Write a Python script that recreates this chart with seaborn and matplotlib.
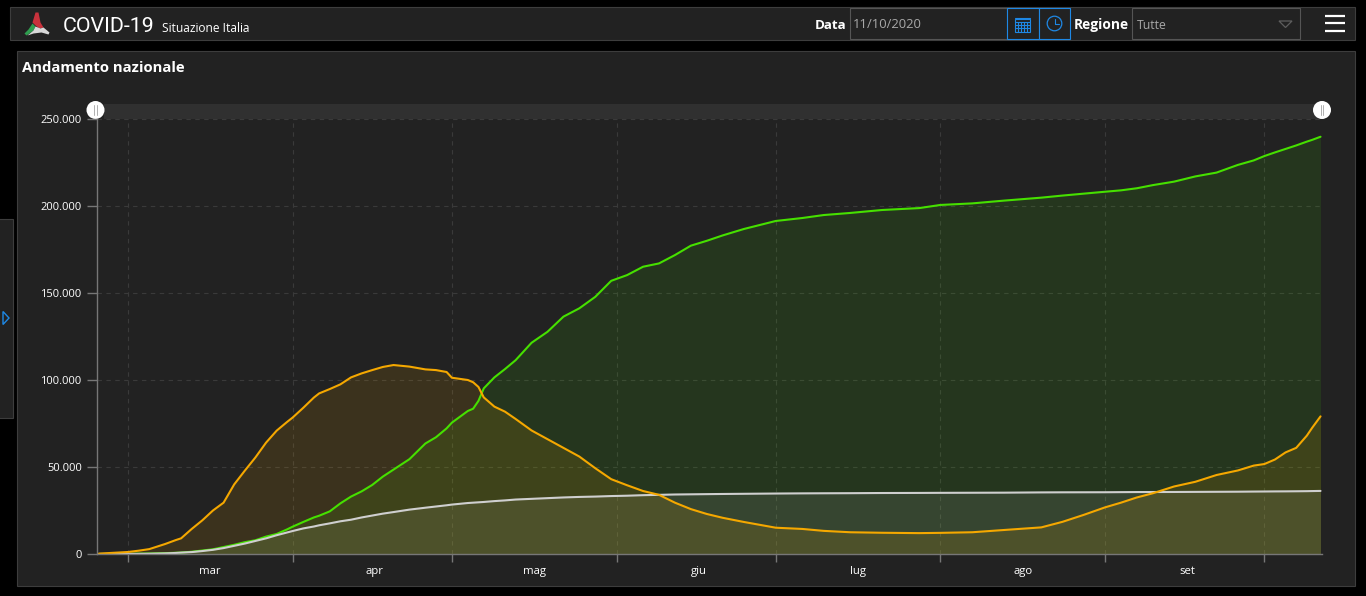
import pandas as pd
import numpy as np
import matplotlib.pyplot as plt
import matplotlib.dates as mdates
from matplotlib.patches import Rectangle, Circle, Polygon
from matplotlib.ticker import FuncFormatter
import seaborn as sns

# Values
dates = ['2020-02-24 12:00', '2020-03-01', '2020-03-03', '2020-03-05', '2020-03-08', '2020-03-10', '2020-03-11',
         '2020-03-13', '2020-03-15', '2020-03-17', '2020-03-19', '2020-03-21', '2020-03-23', '2020-03-25',
         '2020-03-27', '2020-03-29', '2020-03-31', '2020-04-01', '2020-04-03', '2020-04-05', '2020-04-06',
         '2020-04-08', '2020-04-10', '2020-04-12', '2020-04-14', '2020-04-16', '2020-04-18', '2020-04-20',
         '2020-04-23', '2020-04-26', '2020-04-28', '2020-04-30', '2020-05-01', '2020-05-04', '2020-05-05',
         '2020-05-06', '2020-05-07', '2020-05-09', '2020-05-11', '2020-05-13', '2020-05-16', '2020-05-19',
         '2020-05-22', '2020-05-25', '2020-05-28', '2020-05-31', '2020-06-03', '2020-06-06', '2020-06-09',
         '2020-06-12', '2020-06-15', '2020-06-18', '2020-06-21', '2020-06-25', '2020-07-01', '2020-07-06',
         '2020-07-10', '2020-07-15', '2020-07-21', '2020-07-28', '2020-08-01', '2020-08-07', '2020-08-13',
         '2020-08-20', '2020-08-24', '2020-08-28', '2020-09-01', '2020-09-04', '2020-09-07', '2020-09-10',
         '2020-09-14', '2020-09-18', '2020-09-22', '2020-09-26', '2020-09-29', '2020-10-01', '2020-10-03',
         '2020-10-05', '2020-10-07', '2020-10-09', '2020-10-10', '2020-10-11 14:00']

positivi = [220, 1150, 1900, 2800, 5750, 8000, 9000,
            14400, 19350, 25000, 29500, 40000, 47900, 55500,
            64000, 70900, 76000, 78400, 84000, 89900, 92300,
            94800, 97500, 101500, 103800, 105700, 107500, 108600,
            107700, 106100, 105700, 104600, 101300, 100000, 98700,
            96000, 90000, 84700, 81800, 77600, 71000, 66000,
            61000, 56000, 49300, 43000, 39500, 36200, 34000,
            29500, 25800, 23000, 20800, 18400, 15100, 14400,
            13300, 12500, 12200, 12000, 12150, 12500, 13800,
            15300, 18500, 22500, 26800, 29500, 32500, 34900,
            38800, 41500, 45400, 48000, 50800, 51700, 54300,
            58400, 61000, 68000, 72500, 79100]

guariti = [1, 100, 200, 300, 500, 700, 800,
           1300, 2000, 2700, 4000, 5300, 6800, 7900,
           10000, 11500, 14200, 15700, 18400, 21000, 22000,
           24500, 29100, 33000, 36000, 39700, 44500, 48500,
           54500, 63500, 67100, 72200, 75500, 82200, 83500,
           88000, 95200, 101500, 106300, 111400, 121400, 127700,
           136400, 141200, 147800, 157000, 160300, 165100, 167000,
           171800, 177200, 180000, 183100, 186800, 191400, 193100,
           194800, 196000, 197700, 198800, 200600, 201500, 203100,
           204800, 206000, 207100, 208200, 209000, 210200, 212000,
           214000, 217000, 219200, 223600, 226200, 228700, 230800,
           232800, 234800, 237000, 238000, 239800]

deceduti = [7, 40, 80, 150, 350, 600, 800,
            1100, 1700, 2400, 3400, 4700, 6000, 7500,
            9000, 10800, 12400, 13200, 14700, 15800, 16500,
            17600, 18800, 19700, 21000, 22100, 23200, 24100,
            25500, 26600, 27300, 28000, 28400, 29300, 29500,
            29700, 29900, 30400, 30800, 31300, 31700, 32100,
            32500, 32800, 33000, 33300, 33500, 33800, 34000,
            34200, 34300, 34400, 34500, 34600, 34750, 34850,
            34900, 34950, 35050, 35100, 35150, 35200, 35250,
            35400, 35450, 35470, 35490, 35550, 35600, 35620,
            35650, 35700, 35750, 35800, 35880, 35920, 35970,
            36000, 36050, 36110, 36170, 36250]

month_labels = ['mar', 'apr', 'mag', 'giu', 'lug', 'ago', 'set']
month_label_dates = ['2020-03-16 12:00', '2020-04-16 12:00', '2020-05-16 12:00', '2020-06-16 12:00',
                     '2020-07-16 12:00', '2020-08-16 12:00', '2020-09-16 12:00']
month_starts = ['2020-03-01', '2020-04-01', '2020-05-01', '2020-06-01', '2020-07-01', '2020-08-01',
                '2020-09-01', '2020-10-01']
y_ticks = [0, 50000, 100000, 150000, 200000, 250000]

colors = {'guariti': '#46e000', 'deceduti': '#cfcfcf', 'positivi': '#f5a800'}
fill_alpha = {'guariti': 0.11, 'deceduti': 0.10, 'positivi': 0.12}

df = pd.DataFrame({'data': pd.to_datetime(dates, format='mixed'), 'guariti': guariti, 'deceduti': deceduti,
                   'positivi': positivi})
long_df = df.melt(id_vars='data', var_name='serie', value_name='casi')

sns.set_theme(style='dark', rc={'axes.facecolor': 'none', 'figure.facecolor': 'black'})
plt.rcParams['font.family'] = ['Open Sans', 'DejaVu Sans']

W, H = 1366, 596
fig = plt.figure(figsize=(W / 100, H / 100), dpi=100)

# Dashboard frame, in pixel coordinates
bg = fig.add_axes([0, 0, 1, 1], zorder=0)
bg.set_xlim(0.5, W + 0.5)
bg.set_ylim(H + 0.5, 0.5)
bg.axis('off')

panel = '#222222'
edge = '#3d3d3d'
blue = '#1e88e5'


def box(x0, y0, x1, y1, fc=panel, ec=edge, lw=0.8):
    bg.add_patch(Rectangle((x0, y0), x1 - x0, y1 - y0, fc=fc, ec=ec, lw=lw))


box(10.5, 7.5, 1355.5, 40.5)
box(17.5, 51.5, 1355.5, 586.5)
box(-2, 219.5, 13.5, 418.5)
bg.add_patch(Polygon([[3.5, 312], [9.5, 318.5], [3.5, 325]], fc='none', ec=blue, lw=1))

# logo
bg.add_patch(Polygon([[36, 13], [39, 13], [41, 23], [44, 28], [40, 29], [36, 26], [33, 23]], fc='#c8323c', ec='none'))
bg.add_patch(Polygon([[33, 24], [36, 27], [34, 31], [27, 36], [25, 34], [29, 30]], fc='#2f9e4f', ec='none'))
bg.add_patch(Polygon([[36, 27], [41, 29], [44, 28], [50, 33], [49, 35], [42, 33], [34, 34], [28, 36], [34, 31]],
                     fc='#d8d8d8', ec='none'))

bg.text(63, 26.5, 'COVID-19', color='white', fontsize=15.4, va='center', family=['Roboto', 'DejaVu Sans'])
bg.text(162, 28.5, 'Situazione Italia', color='white', fontsize=8.65, va='center')
bg.text(23, 68.5, 'Andamento nazionale', color='white', fontsize=10.7, va='center', fontweight='bold')

# top controls
bg.text(815.5, 25.5, 'Data', color='white', fontsize=9.6, va='center', fontweight='bold')
box(850.5, 8.5, 1007, 39.5, ec='#555555')
bg.text(853.5, 24.5, '11/10/2020', color='#a8a8a8', fontsize=9.4, va='center')
box(1007.5, 8.5, 1039, 39.5, ec=blue)
box(1039, 8.5, 1070.5, 39.5, ec=blue)
bg.add_patch(Rectangle((1015.5, 19), 15, 13, fc='none', ec=blue, lw=0.8))
for yy in [18, 22, 25, 28.5]:
    bg.plot([1015.5, 1030.5], [yy, yy], color=blue, lw=0.8)
for xx in [1018.5, 1021.5, 1024.5, 1027.5]:
    bg.plot([xx, xx], [22, 32], color=blue, lw=0.8)
bg.add_patch(Circle((1055, 24), 7.3, fc='none', ec=blue, lw=0.9))
bg.plot([1055, 1055, 1059], [19.5, 24.5, 24.5], color=blue, lw=0.8)
bg.text(1074.5, 25.5, 'Regione', color='white', fontsize=9.9, va='center', fontweight='bold')
box(1132.5, 8.5, 1300.5, 39.5, ec='#555555')
bg.text(1137.5, 26, 'Tutte', color='#a8a8a8', fontsize=8.8, va='center')
bg.add_patch(Polygon([[1279.5, 21.5], [1292.5, 21.5], [1286, 28]], fc='none', ec='#5e5e5e', lw=0.9))
for yy in [16.5, 23.5, 31]:
    bg.plot([1325, 1345], [yy, yy], color='white', lw=1.6, solid_capstyle='butt')

# range slider above the plot
bg.add_patch(Rectangle((104, 104), 1218, 15.5, fc='#303030', ec='none'))
for cx in [96, 1322.5]:
    bg.add_patch(Circle((cx, 110.5), 9, fc='white', ec='none', zorder=3))
    bg.plot([cx - 1.3, cx - 1.3], [105.5, 115.5], color='#b0b0b0', lw=0.7, zorder=4)
    bg.plot([cx + 1.3, cx + 1.3], [105.5, 115.5], color='#b0b0b0', lw=0.7, zorder=4)

# Chart
ax = fig.add_axes([97 / W, 1 - 554 / H, (1322 - 97) / W, (554 - 119) / H], zorder=1)
sns.lineplot(data=long_df, x='data', y='casi', hue='serie', hue_order=['guariti', 'deceduti', 'positivi'],
             palette=colors, linewidth=1.5, legend=False, ax=ax)
for serie, color in colors.items():
    ax.fill_between(df['data'], 0, df[serie], color=color, alpha=fill_alpha[serie], linewidth=0)

mar1 = mdates.date2num(pd.Timestamp('2020-03-01'))
ax.set_xlim(mar1 - 31 / 5.31, mar1 + (1322 - 128) / 5.31)
ax.set_ylim(0, 250000)
ax.set_xlabel('')
ax.set_ylabel('')

ax.set_yticks(y_ticks)
ax.yaxis.set_major_formatter(FuncFormatter(lambda v, p: f'{int(v):,}'.replace(',', '.')))
ax.set_xticks(pd.to_datetime(month_starts))
ax.set_xticklabels([])
ax.set_xticks(pd.to_datetime(month_label_dates, format='mixed'), labels=month_labels, minor=True)

ax.tick_params(axis='y', colors='white', labelsize=8, length=7, width=1, color='#777777', pad=4, left=True)
ax.tick_params(axis='x', which='major', length=6, width=1, color='#777777', bottom=True)
ax.tick_params(axis='x', which='minor', length=0, labelsize=8.2, labelcolor='white', pad=8.5)

ax.grid(True, which='major', color='#3a3a3a', linestyle=(0, (4, 4)), linewidth=0.8)
for side in ['top', 'right']:
    ax.spines[side].set_visible(False)
for side in ['left', 'bottom']:
    ax.spines[side].set_color('#777777')
    ax.spines[side].set_linewidth(1)

fig.savefig('out.png', dpi=100, facecolor='black')
